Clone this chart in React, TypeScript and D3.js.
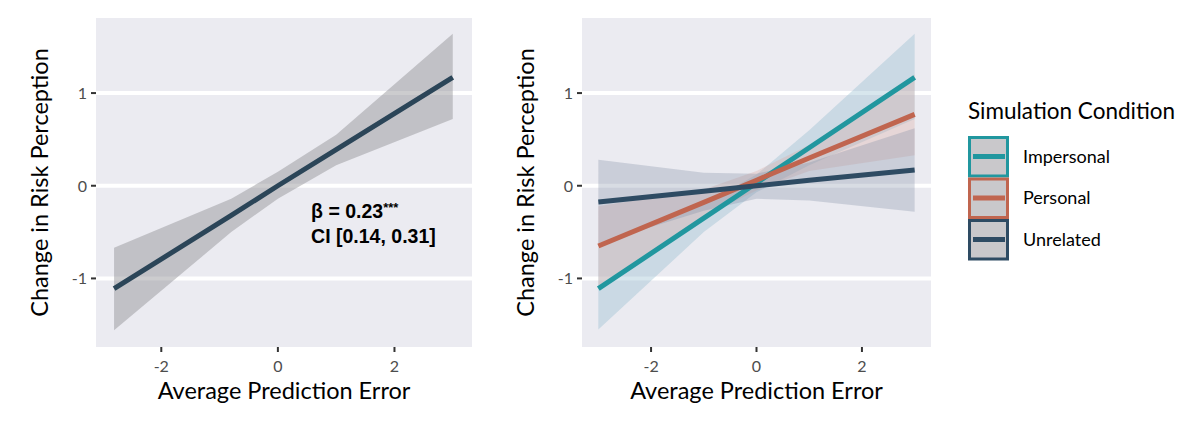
import React from 'react';
import * as d3 from 'd3';

// fitted lines and confidence bands
const leftX = [-2.81, -0.8, 0, 1, 3.0];
const leftFit = [-1.11, -0.32, 0.0, 0.39, 1.17];
const leftUpper = [-0.67, -0.14, 0.15, 0.55, 1.64];
const leftLower = [-1.56, -0.5, -0.14, 0.22, 0.72];

const rightX = [-3, -1, 0, 1, 3];
const impersonalFit = [-1.11, -0.35, 0.03, 0.41, 1.17];
const impersonalUpper = [-0.67, -0.2, 0.12, 0.6, 1.64];
const impersonalLower = [-1.55, -0.5, -0.07, 0.22, 0.72];
const personalFit = [-0.65, -0.18, 0.06, 0.3, 0.77];
const personalUpper = [-0.22, -0.04, 0.16, 0.44, 1.2];
const personalLower = [-1.08, -0.33, -0.05, 0.16, 0.33];
const unrelatedFit = [-0.175, -0.06, 0.0, 0.06, 0.17];
const unrelatedUpper = [0.28, 0.14, 0.13, 0.25, 0.62];
const unrelatedLower = [-0.62, -0.27, -0.14, -0.16, -0.28];

const conditions = ['Impersonal', 'Personal', 'Unrelated'];
const conditionColors = ['#21979F', '#C0654F', '#2E4B63'];
const xTicks = [-2, 0, 2];
const yTicks = [-1, 0, 1];
const yTickLabels = ['-1', '0', '1'];

const FONT = 'Lato, "Open Sans", sans-serif';
const PANEL_BG = '#EBEBF1';

type Band = { fit: number[]; upper: number[]; lower: number[]; color: string; alpha: number; lineColor: string };

const Panel: React.FC<{
  left: number; right: number; top: number; bottom: number;
  xDomain: [number, number]; xs: number[]; bands: Band[]; children?: React.ReactNode;
}> = ({ left, right, top, bottom, xDomain, xs, bands, children }) => {
  const x = d3.scaleLinear().domain(xDomain).range([left, right]);
  const y = d3.scaleLinear().domain([-1.74, 1.81]).range([bottom, top]);
  const idx = xs.map((_, i) => i);
  const area = (b: Band) =>
    d3.area<number>().x(i => x(xs[i])).y0(i => y(b.lower[i])).y1(i => y(b.upper[i]))(idx) || '';
  const line = (b: Band) => d3.line<number>().x(i => x(xs[i])).y(i => y(b.fit[i]))(idx) || '';
  return (
    <g>
      <rect x={left} y={top} width={right - left} height={bottom - top} fill={PANEL_BG} />
      {yTicks.map(t => (
        <line key={t} x1={left} x2={right} y1={y(t)} y2={y(t)} stroke="#fff" strokeWidth={4} />
      ))}
      {bands.map((b, i) => (
        <path key={'a' + i} d={area(b)} fill={b.color} fillOpacity={b.alpha} />
      ))}
      {bands.map((b, i) => (
        <path key={'l' + i} d={line(b)} fill="none" stroke={b.lineColor} strokeWidth={5} />
      ))}
      {children}
      {yTicks.map((t, i) => (
        <g key={t}>
          <line x1={left - 5} x2={left} y1={y(t)} y2={y(t)} stroke="#333" strokeWidth={2} />
          <text x={left - 9} y={y(t)} dy="0.36em" textAnchor="end" fontSize={16} fill="#4D4D4D" fontFamily={FONT}>
            {yTickLabels[i]}
          </text>
        </g>
      ))}
      {xTicks.map(t => (
        <g key={t}>
          <line x1={x(t)} x2={x(t)} y1={bottom} y2={bottom + 5} stroke="#333" strokeWidth={2} />
          <text x={x(t)} y={bottom + 25} textAnchor="middle" fontSize={16} fill="#4D4D4D" fontFamily={FONT}>
            {t}
          </text>
        </g>
      ))}
      <text x={(left + right) / 2} y={bottom + 52} textAnchor="middle" fontSize={23.5} fill="#000" fontFamily={FONT}>
        Average Prediction Error
      </text>
      <text
        transform={`translate(${left - 48},${(top + bottom) / 2}) rotate(-90)`}
        textAnchor="middle" fontSize={23.5} fill="#000" fontFamily={FONT}
      >
        Change in Risk Perception
      </text>
    </g>
  );
};

export default function App() {
  const leftBands: Band[] = [
    { fit: leftFit, upper: leftUpper, lower: leftLower, color: '#8F8D93', alpha: 0.45, lineColor: '#2B4558' },
  ];
  const rightBands: Band[] = [
    { fit: impersonalFit, upper: impersonalUpper, lower: impersonalLower, color: '#8DB8CC', alpha: 0.35, lineColor: conditionColors[0] },
    { fit: personalFit, upper: personalUpper, lower: personalLower, color: '#D9A79C', alpha: 0.3, lineColor: conditionColors[1] },
    { fit: unrelatedFit, upper: unrelatedUpper, lower: unrelatedLower, color: '#7E8AA3', alpha: 0.3, lineColor: conditionColors[2] },
  ];
  const lx = d3.scaleLinear().domain([-3.12, 3.33]).range([96, 472]);
  const ly = d3.scaleLinear().domain([-1.74, 1.81]).range([347, 18]);

  return (
    <svg width={1200} height={426} style={{ position: 'absolute', left: 0, top: 0 }}>
      <rect width={1200} height={426} fill="#fff" />
      <Panel left={96} right={472} top={18} bottom={347} xDomain={[-3.12, 3.33]} xs={leftX} bands={leftBands}>
        <text x={lx(0.57)} y={ly(-0.35)} fontSize={19.5} fontWeight="bold" fontFamily='"Liberation Sans", Arial, sans-serif'>
          β = 0.23<tspan fontSize={13} dy={-6}>***</tspan>
        </text>
        <text x={lx(0.57)} y={ly(-0.62)} fontSize={19.5} fontWeight="bold" fontFamily='"Liberation Sans", Arial, sans-serif'>
          CI [0.14, 0.31]
        </text>
      </Panel>
      <Panel left={582} right={931} top={18} bottom={347} xDomain={[-3.31, 3.31]} xs={rightX} bands={rightBands} />
      <g fontFamily={FONT}>
        <text x={968} y={119} fontSize={22.5} fill="#000">Simulation Condition</text>
        {conditions.map((c, i) => (
          <g key={c} transform={`translate(968,${136 + i * 41.5})`}>
            <rect x={1.5} y={1.5} width={38} height={38.5} fill="#C9C8CB" stroke={conditionColors[i]} strokeWidth={3} />
            <line x1={5} x2={37} y1={20.5} y2={20.5} stroke={conditionColors[i]} strokeWidth={5} />
            <text x={55} y={20.5} dy="0.36em" fontSize={18} fill="#000">{c}</text>
          </g>
        ))}
      </g>
    </svg>
  );
}
